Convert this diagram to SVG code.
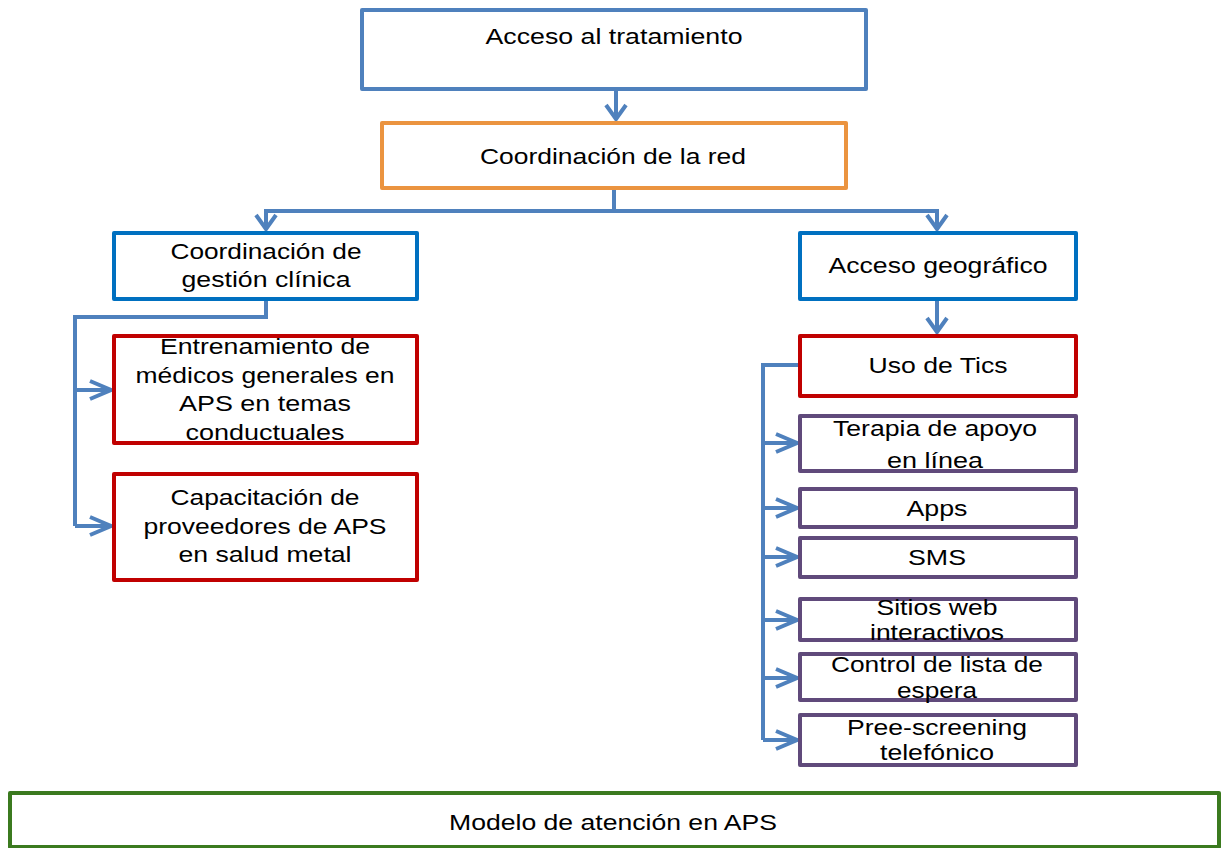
<svg xmlns="http://www.w3.org/2000/svg" width="1221" height="848" viewBox="0 0 1221 848">
<style>
  .box{fill:#fff;stroke-width:4;stroke-linejoin:round}
  .b1{stroke:#4F81BD}
  .b2{stroke:#0070C0}
  .org{stroke:#EB9440}
  .red{stroke:#C00000}
  .pur{stroke:#604A7B}
  .grn{stroke:#3B7A1F}
  text{font-family:"Liberation Sans",Arial,sans-serif;font-size:22px;fill:#000;text-anchor:middle}
  .con{fill:none;stroke:#4F81BD;stroke-width:4}
</style>
<defs>
  <marker id="arrV" markerUnits="userSpaceOnUse" viewBox="-20 -14 24 28" refX="0" refY="0" markerWidth="24" markerHeight="28" orient="auto">
    <path d="M-14,-10 L0,0 L-14,10" fill="none" stroke="#4F81BD" stroke-width="4"/>
  </marker>
  <marker id="arrH" markerUnits="userSpaceOnUse" viewBox="-26 -12 30 24" refX="0" refY="0" markerWidth="30" markerHeight="24" orient="auto">
    <path d="M-21,-9 L0,0 L-21,9" fill="none" stroke="#4F81BD" stroke-width="4"/>
  </marker>
</defs>

<g id="connectors">
  <path class="con" d="M616,90 V119" marker-end="url(#arrV)"/>
  <path class="con" d="M614,189 V211"/>
  <path class="con" d="M614,211 H266 V229" marker-end="url(#arrV)"/>
  <path class="con" d="M614,211 H937 V229" marker-end="url(#arrV)"/>
  <path class="con" d="M937,300 V332" marker-end="url(#arrV)"/>
  <path class="con" d="M266,300 V317 H75 V526"/>
  <path class="con" d="M75,390 H111" marker-end="url(#arrH)"/>
  <path class="con" d="M75,526 H111" marker-end="url(#arrH)"/>
  <path class="con" d="M800,365 H763 V740"/>
  <path class="con" d="M763,443 H797" marker-end="url(#arrH)"/>
  <path class="con" d="M763,508 H797" marker-end="url(#arrH)"/>
  <path class="con" d="M763,557 H797" marker-end="url(#arrH)"/>
  <path class="con" d="M763,620 H797" marker-end="url(#arrH)"/>
  <path class="con" d="M763,678 H797" marker-end="url(#arrH)"/>
  <path class="con" d="M763,740 H797" marker-end="url(#arrH)"/>
</g>

<g id="acceso-tratamiento">
  <rect class="box b1" x="362" y="10" width="504" height="79"/>
  <text x="614" y="44" textLength="257" lengthAdjust="spacingAndGlyphs">Acceso al tratamiento</text>
</g>
<g id="coordinacion-red">
  <rect class="box org" x="382" y="123" width="464" height="65"/>
  <text x="613" y="164" textLength="266" lengthAdjust="spacingAndGlyphs">Coordinación de la red</text>
</g>
<g id="coordinacion-gestion">
  <rect class="box b2" x="114" y="233" width="303" height="66"/>
  <text x="266" y="259" textLength="191" lengthAdjust="spacingAndGlyphs">Coordinación de</text>
  <text x="266" y="287" textLength="169" lengthAdjust="spacingAndGlyphs">gestión clínica</text>
</g>
<g id="acceso-geografico">
  <rect class="box b2" x="800" y="233" width="276" height="66"/>
  <text x="938" y="273" textLength="219" lengthAdjust="spacingAndGlyphs">Acceso geográfico</text>
</g>
<g id="entrenamiento">
  <rect class="box red" x="114" y="336" width="303" height="107"/>
  <text x="265" y="354" textLength="210" lengthAdjust="spacingAndGlyphs">Entrenamiento de</text>
  <text x="265" y="383" textLength="259" lengthAdjust="spacingAndGlyphs">médicos generales en</text>
  <text x="265" y="411" textLength="172" lengthAdjust="spacingAndGlyphs">APS en temas</text>
  <text x="265" y="440" textLength="159" lengthAdjust="spacingAndGlyphs">conductuales</text>
</g>
<g id="capacitacion">
  <rect class="box red" x="114" y="474" width="303" height="106"/>
  <text x="265" y="505" textLength="189" lengthAdjust="spacingAndGlyphs">Capacitación de</text>
  <text x="265" y="534" textLength="243" lengthAdjust="spacingAndGlyphs">proveedores de APS</text>
  <text x="265" y="562" textLength="173" lengthAdjust="spacingAndGlyphs">en salud metal</text>
</g>
<g id="uso-tics">
  <rect class="box red" x="800" y="336" width="276" height="60"/>
  <text x="938" y="373" textLength="139" lengthAdjust="spacingAndGlyphs">Uso de Tics</text>
</g>
<g id="terapia">
  <rect class="box pur" x="800" y="416" width="276" height="55"/>
  <text x="935" y="436" textLength="204" lengthAdjust="spacingAndGlyphs">Terapia de apoyo</text>
  <text x="935" y="468" textLength="96" lengthAdjust="spacingAndGlyphs">en línea</text>
</g>
<g id="apps">
  <rect class="box pur" x="800" y="489" width="276" height="38"/>
  <text x="937" y="516" textLength="61" lengthAdjust="spacingAndGlyphs">Apps</text>
</g>
<g id="sms">
  <rect class="box pur" x="800" y="538" width="276" height="39"/>
  <text x="937" y="565" textLength="58" lengthAdjust="spacingAndGlyphs">SMS</text>
</g>
<g id="sitios-web">
  <rect class="box pur" x="800" y="599" width="276" height="41"/>
  <text x="937" y="615" textLength="121" lengthAdjust="spacingAndGlyphs">Sitios web</text>
  <text x="937" y="640" textLength="134" lengthAdjust="spacingAndGlyphs">interactivos</text>
</g>
<g id="control-lista">
  <rect class="box pur" x="800" y="654" width="276" height="46"/>
  <text x="937" y="672" textLength="212" lengthAdjust="spacingAndGlyphs">Control de lista de</text>
  <text x="937" y="698" textLength="80" lengthAdjust="spacingAndGlyphs">espera</text>
</g>
<g id="pree-screening">
  <rect class="box pur" x="800" y="715" width="276" height="50"/>
  <text x="937" y="735" textLength="180" lengthAdjust="spacingAndGlyphs">Pree-screening</text>
  <text x="937" y="760" textLength="114" lengthAdjust="spacingAndGlyphs">telefónico</text>
</g>
<g id="modelo-aps">
  <rect class="box grn" x="10" y="793" width="1209" height="54"/>
  <text x="613" y="830" font-size="24" textLength="328" lengthAdjust="spacingAndGlyphs">Modelo de atención en APS</text>
</g>
</svg>
